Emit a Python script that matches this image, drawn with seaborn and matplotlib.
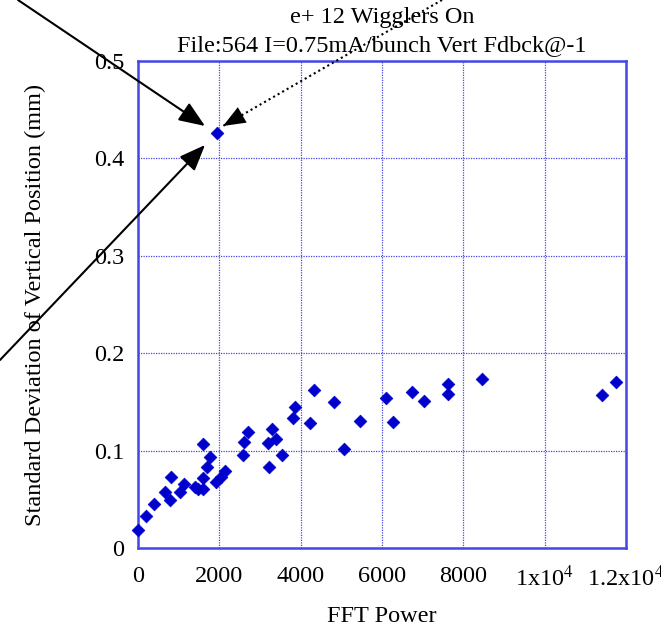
import matplotlib
matplotlib.use("Agg")
import matplotlib.pyplot as plt
import seaborn as sns
import pandas as pd
from matplotlib.patches import FancyArrowPatch
from matplotlib.lines import Line2D

fft_power = [0, 187, 393, 656, 787, 803, 1033, 1123, 1402, 1483, 1607, 1590, 1590,
             1705, 1770, 1918, 2033, 2139, 2574, 2607, 2713, 3230, 3189, 3287, 3393,
             3541, 3803, 3861, 4230, 4336, 4828, 5066, 5459, 6098, 6262, 6730, 7032,
             7631, 7631, 8459, 11402, 11754, 1943]
std_dev = [0.0185, 0.033, 0.045, 0.058, 0.049, 0.073, 0.058, 0.066, 0.063, 0.061,
           0.061, 0.0715, 0.107, 0.0835, 0.093, 0.068, 0.073, 0.079, 0.0955, 0.109,
           0.119, 0.083, 0.108, 0.122, 0.1115, 0.0955, 0.133, 0.1445, 0.128, 0.162,
           0.150, 0.102, 0.130, 0.154, 0.129, 0.160, 0.151, 0.168, 0.158, 0.1735,
           0.157, 0.170, 0.426]

x_ticks = [0, 2000, 4000, 6000, 8000, 10000, 12000]
x_tick_labels = ["0", "2000", "4000", "6000", "8000", r"1x10$^4$", r"1.2x10$^4$"]
y_ticks = [0, 0.1, 0.2, 0.3, 0.4, 0.5]
y_tick_labels = ["0", "0.1", "0.2", "0.3", "0.4", "0.5"]

df = pd.DataFrame({"FFT Power": fft_power, "Std": std_dev})

sns.set_theme(style="white")
plt.rcParams["font.family"] = ["Liberation Serif", "DejaVu Serif"]
plt.rcParams["mathtext.fontset"] = "stix"

W, H = 661, 629
fig = plt.figure(figsize=(W / 100, H / 100), dpi=100)
ax = fig.add_axes([138 / W, 1 - 548 / H, (626 - 138) / W, (548 - 61) / H])

frame_col = "#4646e6"
FS = 17.5
sns.scatterplot(data=df, x="FFT Power", y="Std", marker="D", s=42,
                color="#0000cc", edgecolor="#0000cc", linewidth=0.5, ax=ax,
                zorder=3, clip_on=False)

ax.set_xlim(0, 12000)
ax.set_ylim(0, 0.5)
ax.set_xticks(x_ticks)
ax.set_xticklabels(x_tick_labels)
ax.set_yticks(y_ticks)
ax.set_yticklabels(y_tick_labels)
ax.grid(True, color=frame_col, linestyle=(0, (1, 1)), linewidth=0.9)
for sp in ax.spines.values():
    sp.set_color(frame_col)
    sp.set_linewidth(1.8)
ax.tick_params(axis="both", direction="in", length=7, width=1.5, color=frame_col,
               labelsize=FS, labelcolor="black")
ax.tick_params(axis="x", pad=13)
ax.tick_params(axis="y", pad=10)
ax.set_xlabel("FFT Power", fontsize=FS, labelpad=10, color="black")
ax.set_ylabel("Standard Deviation of Vertical Position (mm)", fontsize=FS,
              labelpad=34, color="black")
ax.set_title("e+ 12 Wigglers On\nFile:564 I=0.75mA/bunch Vert Fdbck@-1",
             fontsize=FS, pad=7, linespacing=1.45, color="black")


def fp(x, y):
    return (x / W, 1 - y / H)


STYLE = "-|>,head_length=1.0,head_width=0.4"


def draw_arrow(start, end, ls):
    if ls == "-":
        a = FancyArrowPatch(fp(*start), fp(*end), transform=fig.transFigure,
                            arrowstyle=STYLE, mutation_scale=16, color="black",
                            linewidth=1.5, shrinkA=0, shrinkB=0)
        fig.patches.append(a)
    else:
        sx, sy = fp(*start)
        ex, ey = fp(*end)
        fig.lines.append(Line2D([sx, ex], [sy, ey], transform=fig.transFigure,
                                color="black", linewidth=1.5,
                                linestyle=(0, (1, 1.5))))
        t = 0.1
        mx, my = ex + (sx - ex) * t, ey + (sy - ey) * t
        a = FancyArrowPatch((mx, my), (ex, ey), transform=fig.transFigure,
                            arrowstyle=STYLE, mutation_scale=16, color="black",
                            linewidth=0, shrinkA=0, shrinkB=0)
        fig.patches.append(a)


arrows = [((18, 0), (205, 126), "-"), ((0, 360), (205, 145), "-"),
          ((442, 0), (223, 126), ":")]
for start, end, ls in arrows:
    draw_arrow(start, end, ls)

fig.savefig("out.png", dpi=100)
